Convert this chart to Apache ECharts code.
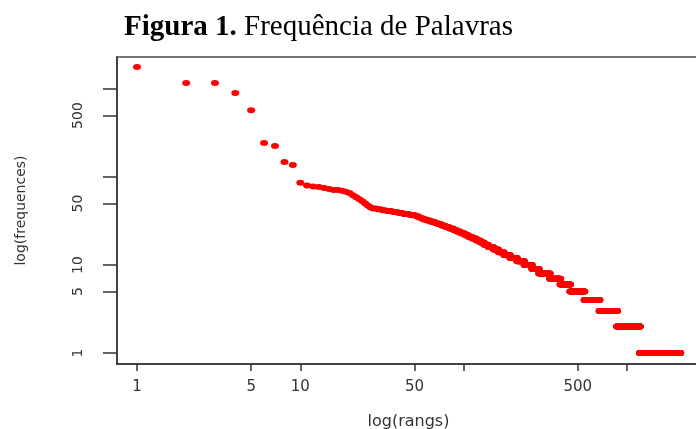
<!DOCTYPE html>
<html>
<head>
<meta charset="utf-8">
<script src="https://cdn.jsdelivr.net/npm/echarts@6/dist/echarts.min.js"></script>
<style>
html, body { margin: 0; padding: 0; background: #fff; }
#chart { width: 696px; height: 429px; }
</style>
</head>
<body>
<div id="chart"></div>
<script>
// ranks 1..10, read one by one
var topFreq = [1780, 1170, 1170, 900, 575, 243, 225, 148, 137, 86]
// after rank 10: a frequency and the last rank that still has it
var levelFreq = [80, 78, 77, 75, 73, 71, 70, 68, 66, 62, 59, 56, 53, 50, 47, 45, 44, 43, 42, 41,
  40, 39, 38, 37, 36, 35, 34, 33, 32, 31, 30, 29, 28, 27, 26, 25, 24, 23, 22, 21,
  20, 19, 18, 17, 16, 15, 14, 13, 12, 11, 10, 9, 8, 7, 6, 5, 4, 3, 2, 1]
var levelLastRank = [11, 12, 13, 14, 15, 17, 18, 19, 20, 21, 22, 23, 24, 25, 26, 27, 29, 31, 33, 36,
  39, 42, 46, 50, 52, 54, 56, 59, 62, 66, 69, 73, 77, 81, 86, 90, 95, 101, 106, 112,
  119, 126, 133, 141, 152, 163, 176, 192, 212, 235, 262, 289, 337, 391, 449, 549, 679, 869, 1199, 2120]

var xTicks = [1, 5, 10, 50, 100, 500, 1000]
var xLabels = [1, 5, 10, 50, 500]
var yTicks = [1, 5, 10, 50, 100, 500, 1000]
var yLabels = [1, 5, 10, 50, 500]

var points = []
topFreq.forEach(function (f, i) {
  points.push([Math.log10(i + 1), Math.log10(f)])
})
var rank = topFreq.length
levelFreq.forEach(function (f, i) {
  while (rank < levelLastRank[i]) {
    rank++
    points.push([Math.log10(rank), Math.log10(f)])
  }
})

function lg(v) { return Math.log10(v) }
function unlog(v) { return String(Math.round(Math.pow(10, v))) }

var axisColor = '#333'
var font = 'DejaVu Sans'

var chart = echarts.init(document.getElementById('chart'))
var option = {
  animation: false,
  title: {
    text: '{b|Figura 1.} Frequência de Palavras',
    left: 119,
    top: 8,
    textStyle: {
      fontFamily: 'Liberation Serif',
      fontSize: 29,
      fontWeight: 'normal',
      color: '#000',
      rich: {
        b: { fontFamily: 'Liberation Serif', fontSize: 29, fontWeight: 'bold', color: '#000' }
      }
    }
  },
  grid: {
    left: 117,
    right: -4,
    top: 57,
    bottom: 65,
    show: true,
    borderColor: '#777',
    borderWidth: 2,
    containLabel: false,
    outerBoundsMode: 'none'
  },
  xAxis: {
    type: 'value',
    min: -0.1225,
    max: 3.4475,
    name: 'log(rangs)',
    nameLocation: 'middle',
    nameGap: 50,
    nameTextStyle: { fontFamily: font, fontSize: 16, color: axisColor },
    splitLine: { show: false },
    axisLine: { show: true, onZero: false, lineStyle: { color: axisColor, width: 1.5 } },
    axisTick: { show: true, length: 7, customValues: xTicks.map(lg), lineStyle: { color: axisColor, width: 1.5 } },
    axisLabel: {
      customValues: xLabels.map(lg),
      formatter: unlog,
      margin: 16,
      fontFamily: font,
      fontSize: 15,
      color: axisColor
    }
  },
  yAxis: {
    type: 'value',
    min: -0.125,
    max: 3.364,
    name: 'log(frequences)',
    nameLocation: 'middle',
    nameRotate: 90,
    nameGap: 89,
    nameTextStyle: { fontFamily: font, fontSize: 14, color: axisColor },
    splitLine: { show: false },
    axisLine: { show: true, onZero: false, lineStyle: { color: axisColor, width: 1.5 } },
    axisTick: { show: true, length: 14, customValues: yTicks.map(lg), lineStyle: { color: axisColor, width: 1.5 } },
    axisLabel: {
      customValues: yLabels.map(lg),
      formatter: unlog,
      rotate: 90,
      margin: 32,
      fontFamily: font,
      fontSize: 14,
      color: axisColor
    }
  },
  series: [
    {
      type: 'scatter',
      data: points,
      symbol: 'circle',
      symbolSize: [8, 6],
      itemStyle: { color: '#f00', opacity: 1 }
    }
  ]
}
chart.setOption(option)
</script>
</body>
</html>
